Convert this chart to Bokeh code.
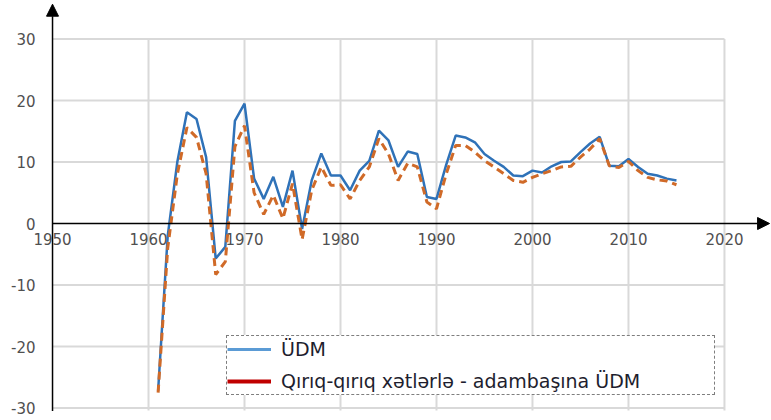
from bokeh.plotting import figure
from bokeh.models import (Range1d, ColumnDataSource, Arrow, NormalHead, Legend,
                          LegendItem)
from bokeh.core.properties import value
from bokeh.embed import file_html
from bokeh.resources import INLINE

# ---- data ----
years = list(range(1961, 2016))
udm = [-27.2, -2.0, 10.0, 18.1, 17.0, 10.8, -5.7, -3.8, 16.7, 19.5,
       7.3, 4.0, 7.6, 2.7, 8.6, -0.9, 7.0, 11.4, 7.8, 7.8,
       5.4, 8.6, 10.2, 15.1, 13.5, 9.2, 11.7, 11.3, 4.3, 4.0,
       9.5, 14.3, 14.0, 13.2, 11.3, 10.2, 9.2, 7.8, 7.7, 8.6,
       8.3, 9.3, 10.0, 10.1, 11.6, 13.0, 14.1, 9.4, 9.3, 10.5,
       9.2, 8.1, 7.8, 7.3, 7.0]
udm_per_capita = [-27.5, -4.0, 8.0, 15.6, 14.0, 8.1, -8.3, -6.2, 12.5, 15.9,
                  5.0, 1.5, 4.6, 0.8, 6.5, -2.6, 5.4, 9.2, 6.2, 6.3,
                  4.0, 7.0, 9.2, 13.8, 11.3, 7.0, 9.8, 9.2, 3.5, 2.4,
                  8.0, 12.7, 12.7, 11.6, 10.2, 9.2, 8.1, 7.0, 6.7, 7.5,
                  8.1, 8.6, 9.2, 9.3, 10.8, 12.1, 13.8, 9.4, 9.1, 10.1,
                  8.6, 7.5, 7.1, 6.9, 6.3]
x_ticks = [1950, 1960, 1970, 1980, 1990, 2000, 2010, 2020]
y_ticks = [-30, -20, -10, 0, 10, 20, 30]
label_udm = "ÜDM"
label_pc = "Qırıq-qırıq xətlərlə - adambaşına ÜDM"

FONT = "DejaVu Sans"
TICK_COLOR = "#505050"

X_LO, X_HI = 1944.58, 2024.9
Y_LO, Y_HI = -32.03, 36.26

p = figure(width=771, height=420, output_backend="svg", toolbar_location=None,
           x_range=Range1d(X_LO, X_HI), y_range=Range1d(Y_LO, Y_HI),
           min_border=0, x_axis_location=None, y_axis_location=None)
p.outline_line_color = None
p.xgrid.visible = False
p.ygrid.visible = False

# grid lines
hg = [t for t in y_ticks if t != 0]
p.segment(x0=[x_ticks[0]] * len(hg), x1=[x_ticks[-1]] * len(hg), y0=hg, y1=hg,
          line_color="#D9D9D9", line_width=2)
vg = x_ticks[1:]
p.segment(x0=vg, x1=vg, y0=[y_ticks[0] - 0.4] * len(vg), y1=[y_ticks[-1]] * len(vg),
          line_color="#D9D9D9", line_width=2)

# axes with arrows
head = dict(size=12, fill_color="black", line_color="black")
p.add_layout(Arrow(x_start=x_ticks[0], y_start=y_ticks[0] - 0.5,
                   x_end=x_ticks[0], y_end=Y_HI - 0.6,
                   line_color="black", line_width=1.5, end=NormalHead(**head)))
p.add_layout(Arrow(x_start=x_ticks[0], y_start=0, x_end=X_HI - 0.2, y_end=0,
                   line_color="black", line_width=1.5, end=NormalHead(**head)))

# tick labels
p.text(x=x_ticks, y=[0] * len(x_ticks), text=[str(t) for t in x_ticks],
       text_align="center", text_baseline="top", y_offset=9,
       text_font=value(FONT), text_font_size="15px", text_color=TICK_COLOR)
p.text(x=[x_ticks[0]] * len(y_ticks), y=y_ticks, text=[str(t) for t in y_ticks],
       text_align="right", text_baseline="middle", x_offset=-17,
       text_font=value(FONT), text_font_size="15px", text_color=TICK_COLOR)

# data lines
p.line(years, udm, line_color="#2F72B8", line_width=2.5)
p.line(years, udm_per_capita, line_color="#D06A28", line_width=3, line_dash="8 5")

# legend-only glyphs
nan = float("nan")
src_dummy = ColumnDataSource(data=dict(x=[nan], y=[nan]))
r1 = p.line("x", "y", source=src_dummy, line_color="#5B9BD5", line_width=3)
r2 = p.line("x", "y", source=src_dummy, line_color="#C00000", line_width=4)

legend = Legend(items=[LegendItem(label=label_udm, renderers=[r1]),
                       LegendItem(label=label_pc, renderers=[r2])],
                location=(226, 25), padding=0, spacing=6,
                glyph_width=44, glyph_height=26, label_height=26,
                label_width=433, label_standoff=10,
                label_text_font=FONT, label_text_font_size="19px",
                label_text_color="#1E1E2E",
                border_line_color="black", border_line_dash="1 1",
                border_line_width=1, background_fill_color="white",
                background_fill_alpha=1.0)
p.add_layout(legend, "center")

open("out.html", "w").write(file_html(p, INLINE))
